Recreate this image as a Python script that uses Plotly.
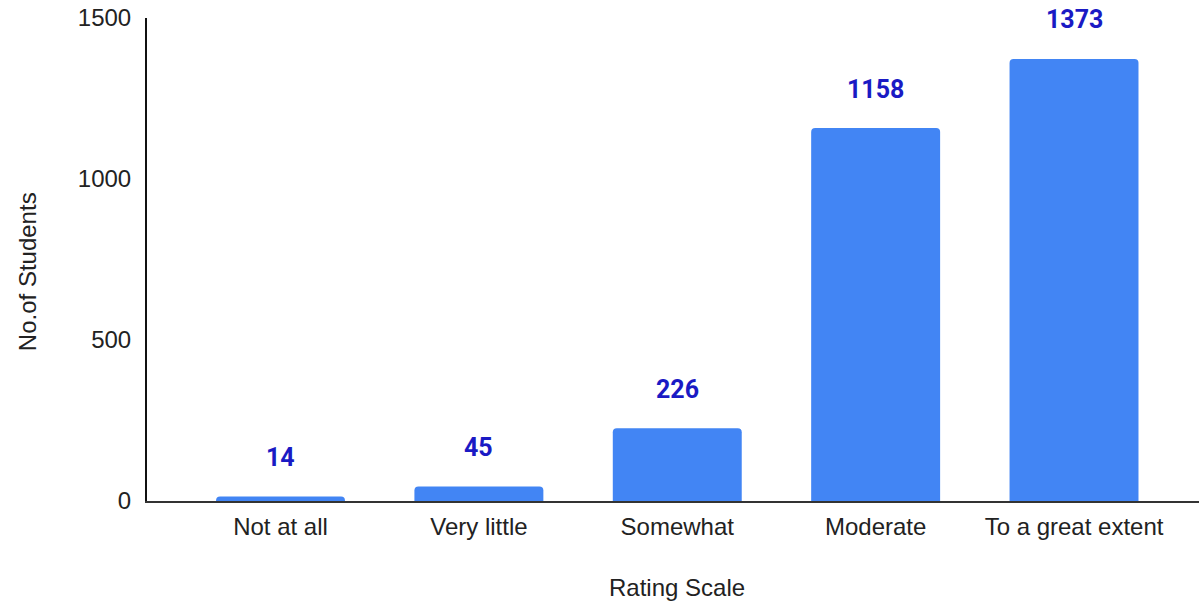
import plotly.graph_objects as go

categories = ["Not at all", "Very little", "Somewhat", "Moderate", "To a great extent"]
students = [14, 45, 226, 1158, 1373]
y_ticks = [0, 500, 1000, 1500]
x_title = "Rating Scale"
y_title = "No.of Students"

fig = go.Figure()
fig.add_trace(go.Bar(
    x=categories, y=students,
    marker=dict(color="#4285F4", cornerradius=4, line=dict(width=0)),
    hoverinfo="x+y",
))

for c, v in zip(categories, students):
    fig.add_annotation(
        x=c, y=v, text=str(v), showarrow=False, yshift=39, yanchor="middle",
        font=dict(family="Roboto", size=25, color="#1a1ac4", weight="bold"),
    )

fig.add_annotation(
    x=0.504, y=-0.18, xref="paper", yref="paper", text=x_title, showarrow=False,
    xanchor="center", yanchor="middle",
    font=dict(family="Liberation Sans, Arial", size=24, color="#222222"),
)
fig.add_annotation(
    x=-0.114, y=0.474, xref="paper", yref="paper", text=y_title, showarrow=False,
    xanchor="center", yanchor="middle", textangle=-90,
    font=dict(family="Liberation Sans, Arial", size=24, color="#222222"),
)

fig.update_layout(
    width=1199, height=603,
    margin=dict(l=147, r=0, t=18, b=102),
    paper_bgcolor="white", plot_bgcolor="white",
    bargap=0.35, showlegend=False,
    font=dict(family="Liberation Sans, Arial", size=24, color="#222222"),
    xaxis=dict(
        type="category", range=[-0.673, 4.63],
        showgrid=False, showline=True, linecolor="#333333", linewidth=1.5,
        ticks="", ticklabelstandoff=3, zeroline=False,
        tickfont=dict(size=24, color="#222222"),
    ),
    yaxis=dict(
        range=[0, 1500], tickvals=y_ticks, ticktext=[str(t) for t in y_ticks],
        showgrid=False, showline=True, linecolor="#111111", linewidth=2,
        ticks="", ticklabelstandoff=9, zeroline=False,
        tickfont=dict(size=24, color="#222222"),
    ),
)

fig.write_html(
    "out.html",
    config={"displayModeBar": False},
    post_script="document.body.style.margin='0';document.body.style.overflow='hidden';",
)
